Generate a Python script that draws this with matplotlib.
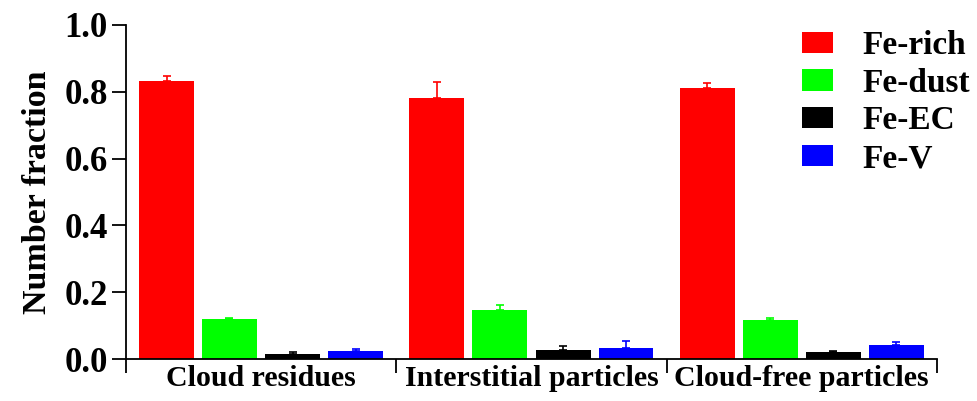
import numpy as np
import matplotlib.pyplot as plt

groups = ['Cloud residues', 'Interstitial particles', 'Cloud-free particles']
types = ['Fe-rich', 'Fe-dust', 'Fe-EC', 'Fe-V']
colors = ['#ff0000', '#00ff00', '#000000', '#0000ff']

# number fraction per type, one value per group
fe_rich = [0.833, 0.780, 0.810]
fe_dust = [0.119, 0.147, 0.117]
fe_ec = [0.014, 0.027, 0.020]
fe_v = [0.024, 0.032, 0.042]

# upper error (std) per type
fe_rich_err = [0.015, 0.050, 0.017]
fe_dust_err = [0.004, 0.014, 0.005]
fe_ec_err = [0.006, 0.013, 0.005]
fe_v_err = [0.007, 0.023, 0.008]

values = [fe_rich, fe_dust, fe_ec, fe_v]
errors = [fe_rich_err, fe_dust_err, fe_ec_err, fe_v_err]

plt.rcParams['font.family'] = ['Liberation Serif', 'DejaVu Serif']
plt.rcParams['font.weight'] = 'bold'

fig = plt.figure(figsize=(9.78, 4.01), dpi=100)
ax = fig.add_axes([0.1288, 0.1047, 0.958 - 0.1288, 0.9377 - 0.1047])

x = np.arange(len(groups))
offsets = [-0.35, -0.117, 0.117, 0.35]
width = 0.203
for vals, errs, off, c, name in zip(values, errors, offsets, colors, types):
    ax.bar(x + off, vals, width, color=c, label=name)
    ax.errorbar(x + off, vals, yerr=[np.zeros(len(errs)), errs], fmt='none',
                ecolor=c, elinewidth=1.2, capsize=3, capthick=1.2)

ax.set_xlim(-0.5, 2.5)
ax.set_ylim(0, 1.0)
ax.set_yticks([0.0, 0.2, 0.4, 0.6, 0.8, 1.0])
ax.set_yticklabels(['0.0', '0.2', '0.4', '0.6', '0.8', '1.0'])
ax.set_xticks([-0.5, 0.5, 1.5, 2.5])
ax.set_xticklabels([])
ax.set_xticks(x, minor=True)
ax.set_xticklabels(groups, minor=True, fontsize=21.5, fontweight='bold')
ax.tick_params(axis='x', which='minor', length=0, pad=4)
ax.tick_params(axis='x', which='major', length=10, width=1.3, direction='out')
ax.tick_params(axis='y', length=10, width=1.3, labelsize=25, pad=3)
for t in ax.get_yticklabels():
    t.set_fontweight('bold')

ax.spines['top'].set_visible(False)
ax.spines['right'].set_visible(False)
ax.spines['left'].set_linewidth(1.3)
ax.spines['bottom'].set_linewidth(1.3)

ax.set_ylabel('Number fraction', fontsize=24.5, fontweight='bold', labelpad=8)

leg = fig.legend(loc='upper left', bbox_to_anchor=(0.820, 0.925),
                 bbox_transform=fig.transFigure, frameon=False,
                 fontsize=24, handlelength=0.93, handleheight=0.6,
                 handletextpad=0.9, labelspacing=0.2,
                 borderpad=0, borderaxespad=0)
for t in leg.get_texts():
    t.set_fontweight('bold')

fig.savefig('out.png', dpi=100)
